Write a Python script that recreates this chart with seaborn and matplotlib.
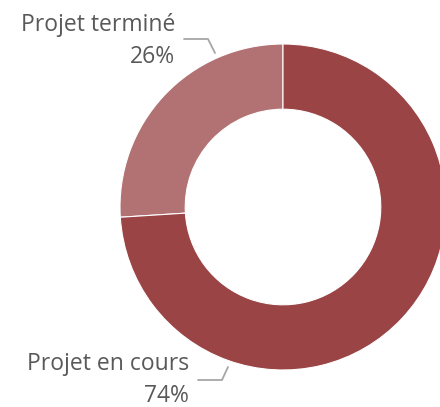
import matplotlib
matplotlib.use("Agg")
import matplotlib.pyplot as plt
import seaborn as sns

# donut data
categories = ["Projet terminé", "Projet en cours"]
shares = [26, 74]
colors = ["#B27172", "#9A4446"]

W, H = 440, 407

sns.set_theme(style="white")
plt.rcParams["font.family"] = ["Open Sans", "DejaVu Sans"]

fig = plt.figure(figsize=(W / 100, H / 100), dpi=100)
ax = fig.add_axes([0, 0, 1, 1])

# centre / radius in pixel units (y up)
cx, cy, r = 283, H - 207, 163
ax.pie(shares, colors=colors, startangle=90, counterclock=True,
       center=(cx, cy), radius=r,
       wedgeprops=dict(width=r * 0.4, edgecolor="white", linewidth=0.8))
ax.set_xlim(0, W)
ax.set_ylim(0, H)
ax.set_aspect("equal")
ax.axis("off")

txt_color = "#595959"
line_color = "#A6A6A6"

# labels with leader lines
labels = [f"{c}\n{v}%" for c, v in zip(categories, shares)]
ax.text(175, H - 41, labels[0], ha="right", va="center", fontsize=16.5,
        color=txt_color, linespacing=1.4, multialignment="right")
ax.plot([184, 208, 215], [H - 39, H - 39, H - 53], color=line_color, lw=1.3)

ax.text(189, H - 380, labels[1], ha="right", va="center", fontsize=16.5,
        color=txt_color, linespacing=1.4, multialignment="right")
ax.plot([198, 222, 228], [H - 380, H - 380, H - 367], color=line_color, lw=1.3)

fig.savefig("out.png", dpi=100)
